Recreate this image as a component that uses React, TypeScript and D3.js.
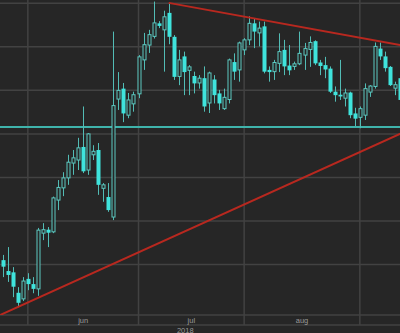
import React from 'react';
import * as d3 from 'd3';

const W = 400;
const H = 333;

// OHLC series (one value per session)
const opens = [
  111.0, 108.5, 108.2, 103.5, 102.1, 106.7, 105.5, 104.4, 117.2, 118.0,
  117.5, 124.8, 127.6, 129.9, 133.3, 134.0, 137.0, 131.7, 135.2, 136.3,
  127.5, 125.5, 120.9, 148.0, 150.4, 144.3, 146.9, 149.2, 157.0, 160.4,
  162.4, 165.4, 163.9, 167.8, 162.3, 153.2, 157.8, 154.6, 153.3, 151.7,
  152.8, 147.1, 152.5, 149.3, 145.8, 147.9, 156.5, 154.7, 159.3, 161.6,
  165.4, 163.2, 164.7, 154.7, 154.3, 156.2, 159.3, 155.7, 155.5, 156.1,
  158.1, 159.4, 161.3, 156.4, 155.8, 155.0, 149.7, 149.0, 148.2, 149.5,
  144.7, 143.8, 144.3, 149.6, 150.9, 159.6, 157.8, 155.4, 150.5, 152.8,
];
const highs = [
  112.2, 114.0, 109.4, 104.8, 107.1, 108.0, 107.1, 118.4, 119.5, 118.6,
  125.6, 129.4, 131.2, 135.2, 136.3, 139.1, 146.3, 140.2, 137.4, 137.9,
  128.7, 128.7, 163.5, 154.2, 151.7, 149.4, 149.7, 158.1, 163.2, 163.9,
  170.4, 165.9, 168.3, 170.1, 162.7, 159.3, 158.9, 155.8, 154.3, 153.5,
  155.5, 154.3, 153.5, 150.1, 150.4, 157.3, 158.5, 161.2, 162.0, 167.0,
  166.5, 165.8, 165.8, 155.5, 157.0, 163.1, 161.6, 160.4, 156.6, 163.5,
  160.9, 162.4, 161.5, 157.0, 157.7, 155.5, 150.9, 157.0, 150.4, 149.7,
  146.0, 146.3, 151.6, 151.2, 161.0, 161.0, 158.9, 155.6, 152.0, 153.3,
];
const lows = [
  107.1, 106.0, 102.5, 100.2, 101.6, 104.1, 103.4, 102.8, 115.6, 114.0,
  117.2, 122.5, 125.7, 128.3, 130.6, 131.7, 131.0, 130.6, 134.0, 126.0,
  124.4, 122.1, 120.2, 145.5, 142.7, 143.6, 145.1, 148.2, 154.7, 158.6,
  161.9, 164.3, 154.3, 160.6, 152.4, 151.2, 148.9, 148.9, 149.3, 150.4,
  145.1, 144.8, 147.0, 145.5, 145.5, 147.0, 152.4, 152.0, 158.1, 160.4,
  159.7, 160.1, 153.9, 152.0, 152.4, 154.2, 153.5, 153.5, 154.7, 155.8,
  154.7, 155.4, 155.8, 153.5, 152.8, 149.4, 147.4, 147.8, 146.3, 143.6,
  141.8, 141.3, 143.2, 148.5, 150.4, 157.0, 154.3, 151.0, 148.9, 146.2,
];
const closes = [
  109.5, 107.6, 104.9, 101.2, 106.2, 105.5, 104.4, 117.9, 118.0, 117.3,
  125.3, 127.7, 129.9, 133.5, 134.5, 136.8, 131.4, 140.0, 136.0, 128.3,
  128.3, 122.5, 146.5, 150.0, 144.7, 147.8, 149.0, 157.7, 160.5, 162.8,
  165.5, 164.8, 166.9, 162.3, 153.1, 157.0, 154.2, 155.4, 151.6, 152.8,
  146.3, 154.0, 148.9, 147.0, 148.4, 157.0, 154.3, 160.9, 161.6, 165.4,
  163.5, 164.3, 154.3, 154.2, 156.4, 158.9, 155.5, 154.6, 156.1, 158.5,
  159.6, 161.0, 156.2, 155.6, 154.8, 149.7, 148.9, 148.6, 149.4, 144.3,
  143.5, 145.8, 150.4, 151.0, 160.1, 157.8, 155.1, 151.2, 151.3, 147.8,
];

const priceTicks = [110, 120, 130, 140, 150, 160, 170];
// session index of the first session in each month (grid boundaries)
const monthStarts = [5, 27, 48, 71];
const monthLabels = ['jun', 'jul', 'aug'];
const yearLabel = '2018';
const yearLabelIndex = 36.3;

// drawn levels
const supportLevel = 141.6;
const resistanceLine = [
  { i: 33, p: 170.1 },
  { i: 79, p: 160.4 },
];
const risingLine = [
  { i: -0.5, p: 98.4 },
  { i: 79.5, p: 140.3 },
];

const BG = '#262626';
const GRID = '#424242';
const UP = '#5cc9c1';
const DOWN = '#3fe3dc';
const WICK = '#52bcb5';
const RED = '#b8281f';
const TEAL = '#3fb3ab';
const TEXT = '#9a9a9a';

export default function App() {
  const n = opens.length;
  const x = d3.scaleLinear().domain([0, n - 1]).range([2.7, 400.1]);
  const y = d3.scaleLinear().domain([110, 170]).range([264.5, 3.3]);
  const plotBottom = 315;
  const axisBottom = 325;

  const trend = d3
    .line<{ i: number; p: number }>()
    .x((d) => x(d.i))
    .y((d) => y(d.p));

  const candles = d3.range(n).map((i) => ({
    i,
    o: opens[i],
    h: highs[i],
    l: lows[i],
    c: closes[i],
  }));

  const labelIdx = monthLabels.map((_, k) => (monthStarts[k] + monthStarts[k + 1]) / 2);

  return (
    <>
      <style>{`body{margin:0;background:${BG};}`}</style>
      <svg width={W} height={H} style={{ display: 'block' }} fontFamily="'Liberation Sans', Arial, sans-serif">
        <rect x={0} y={0} width={W} height={H} fill={BG} />
        <defs>
          <clipPath id="plot">
            <rect x={0} y={0} width={W} height={plotBottom} />
          </clipPath>
        </defs>
        {/* horizontal grid */}
        {priceTicks.map((t) => (
          <line key={'h' + t} x1={0} x2={W} y1={y(t)} y2={y(t)} stroke={GRID} strokeWidth={1.5} />
        ))}
        {/* vertical month grid */}
        {monthStarts.map((m) => (
          <line key={'v' + m} x1={x(m)} x2={x(m)} y1={0} y2={axisBottom} stroke={GRID} strokeWidth={1.5} />
        ))}
        {/* axis rows */}
        <line x1={0} x2={W} y1={plotBottom} y2={plotBottom} stroke={GRID} strokeWidth={1.5} />
        <line x1={0} x2={W} y1={axisBottom} y2={axisBottom} stroke={GRID} strokeWidth={1.5} />
        {monthLabels.map((lab, k) => (
          <text key={lab} x={x(labelIdx[k])} y={322.5} fill={TEXT} fontSize={7.5} textAnchor="middle">
            {lab}
          </text>
        ))}
        <text x={x(yearLabelIndex)} y={332.5} fill={TEXT} fontSize={7.5} textAnchor="middle">
          {yearLabel}
        </text>

        <g clipPath="url(#plot)">
          {/* support level */}
          <line x1={0} x2={W} y1={y(supportLevel)} y2={y(supportLevel)} stroke={TEAL} strokeWidth={2} />
          {/* candles */}
          {candles.map((d) => {
            const cx = Math.round(x(d.i)) + 0.5;
            const up = d.c >= d.o;
            const top = y(Math.max(d.o, d.c));
            const bot = y(Math.min(d.o, d.c));
            return (
              <g key={d.i}>
                <line x1={cx} x2={cx} y1={y(d.h)} y2={y(d.l)} stroke={WICK} strokeWidth={1} />
                {up ? (
                  <rect
                    x={cx - 1.5}
                    y={top}
                    width={3}
                    height={Math.max(1, bot - top)}
                    fill={BG}
                    stroke={UP}
                    strokeWidth={1}
                  />
                ) : (
                  <rect x={cx - 2} y={top} width={4} height={Math.max(1.5, bot - top)} fill={DOWN} />
                )}
              </g>
            );
          })}
          {/* trend lines */}
          <path d={trend(resistanceLine) || ''} stroke={RED} strokeWidth={2} fill="none" />
          <path d={trend(risingLine) || ''} stroke={RED} strokeWidth={2} fill="none" />
        </g>
      </svg>
    </>
  );
}
